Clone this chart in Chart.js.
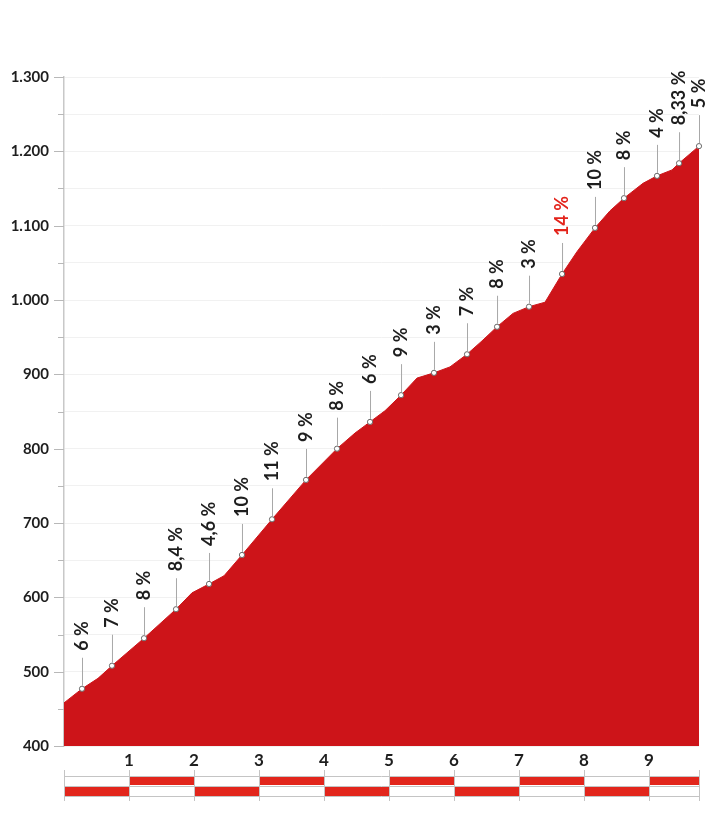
<!DOCTYPE html>
<html>
<head>
<meta charset="utf-8">
<title>Perfil</title>
<script src="https://cdn.jsdelivr.net/npm/chart.js@4/dist/chart.umd.min.js"></script>
<style>
  html, body { margin: 0; padding: 0; background: #fff; }
  #wrap { width: 728px; height: 827px; }
</style>
</head>
<body>
<div id="wrap"><canvas id="chart" width="728" height="827"></canvas></div>
<script>
// profile: distance (km), altitude (m), gradient label at that point
const km = [0, 0.277, 0.523, 0.738, 1.231, 1.723, 1.969, 2.231, 2.462, 2.738, 3.2, 3.723,
  4.2, 4.477, 4.708, 4.938, 5.185, 5.431, 5.692, 5.938, 6.2, 6.431, 6.662, 6.908,
  7.154, 7.4, 7.662, 7.892, 8.169, 8.4, 8.615, 8.908, 9.123, 9.354, 9.462, 9.769];
const altitude = [458, 477, 491, 508, 545, 584, 606, 618, 629, 657, 705, 758,
  800, 821, 836, 851, 872, 895, 902, 910, 927, 945, 964, 982,
  991, 997, 1035, 1065, 1097, 1120, 1137, 1157, 1167, 1175, 1184, 1207];
const gradients = ['', '6 %', '', '7 %', '8 %', '8,4 %', '', '4,6 %', '', '10 %', '11 %', '9 %',
  '8 %', '', '6 %', '', '9 %', '', '3 %', '', '7 %', '', '8 %', '',
  '3 %', '', '14 %', '', '10 %', '', '8 %', '', '4 %', '', '8,33 %', '5 %'];
const kmTicks = [1, 2, 3, 4, 5, 6, 7, 8, 9];
const yMin = 400, yMax = 1300;

const TEXT = '#1e1e1e';
const FONT = 'Lato, "Open Sans", sans-serif';

const fmtAlt = (v) => {
  if (v % 100 !== 0) return '';
  return v >= 1000 ? Math.floor(v / 1000) + '.' + String(v % 1000).padStart(3, '0') : String(v);
};

// gradient labels with leader lines above the marked points
const gradientLabels = {
  id: 'gradientLabels',
  afterDatasetsDraw(chart) {
    const { ctx } = chart;
    const meta = chart.getDatasetMeta(0);
    ctx.save();
    meta.data.forEach((pt, i) => {
      const txt = gradients[i];
      if (!txt) return;
      ctx.strokeStyle = '#a8a8a8';
      ctx.lineWidth = 1;
      ctx.beginPath();
      ctx.moveTo(pt.x + 0.5, pt.y - 3);
      ctx.lineTo(pt.x + 0.5, pt.y - 31);
      ctx.stroke();
      ctx.translate(pt.x, pt.y - 38);
      ctx.rotate(-Math.PI / 2);
      ctx.fillStyle = parseFloat(txt) >= 12 ? '#e3241b' : TEXT;
      ctx.font = 'bold 18px ' + FONT;
      ctx.textAlign = 'left';
      ctx.textBaseline = 'middle';
      ctx.fillText(txt, 0, 0);
      ctx.setTransform(1, 0, 0, 1, 0, 0);
    });
    ctx.restore();
  }
};

// y tick marks (long at hundreds, short at fifties)
const yTickMarks = {
  id: 'yTickMarks',
  afterDraw(chart) {
    const { ctx } = chart;
    const y = chart.scales.y;
    const x0 = chart.chartArea.left;
    ctx.save();
    ctx.strokeStyle = '#b8b8b8';
    ctx.lineWidth = 1;
    y.ticks.forEach((t) => {
      const py = Math.round(y.getPixelForValue(t.value)) + 0.5;
      const len = t.value % 100 === 0 ? 10 : 6;
      ctx.beginPath();
      ctx.moveTo(x0 - len, py);
      ctx.lineTo(x0, py);
      ctx.stroke();
    });
    ctx.restore();
  }
};

// kilometre strip below the axis
const kmStrip = {
  id: 'kmStrip',
  afterDraw(chart) {
    const { ctx } = chart;
    const x = chart.scales.x;
    const end = km[km.length - 1];
    const rowTop = 777, rowMid = 786, rowBot = 795;
    ctx.save();
    for (let k = 0; k < Math.ceil(end); k++) {
      const a = x.getPixelForValue(k);
      const b = x.getPixelForValue(Math.min(k + 1, end));
      ctx.fillStyle = '#e2261c';
      if (k % 2 === 1) ctx.fillRect(a, rowTop, b - a, rowMid - rowTop - 1);
      else ctx.fillRect(a, rowMid + 1, b - a, rowBot - rowMid);
    }
    ctx.strokeStyle = '#c4c4c4';
    ctx.lineWidth = 1;
    const left = x.getPixelForValue(0), right = x.getPixelForValue(end);
    [rowTop - 0.5, rowMid + 0.5, rowBot + 1.5].forEach((py) => {
      ctx.beginPath();
      ctx.moveTo(left, py);
      ctx.lineTo(right, py);
      ctx.stroke();
    });
    [0, ...kmTicks, end].forEach((v) => {
      const px = Math.round(x.getPixelForValue(v)) + 0.5;
      ctx.beginPath();
      ctx.moveTo(px, 770);
      ctx.lineTo(px, 801);
      ctx.stroke();
    });
    ctx.restore();
  }
};

new Chart(document.getElementById('chart'), {
  type: 'line',
  data: {
    datasets: [{
      data: km.map((d, i) => ({ x: d, y: altitude[i] })),
      fill: 'start',
      backgroundColor: '#cd1419',
      borderColor: '#cd1419',
      borderWidth: 1,
      tension: 0,
      clip: false,
      pointRadius: (c) => (gradients[c.dataIndex] ? 2.6 : 0),
      pointBackgroundColor: '#ffffff',
      pointBorderColor: '#6a6a6a',
      pointBorderWidth: 1
    }]
  },
  options: {
    responsive: false,
    animation: false,
    devicePixelRatio: 1,
    layout: { padding: { top: 77, right: 29, left: 0, bottom: 0 } },
    plugins: { legend: { display: false }, tooltip: { enabled: false } },
    scales: {
      x: {
        type: 'linear',
        min: 0,
        max: km[km.length - 1],
        afterBuildTicks: (s) => { s.ticks = kmTicks.map((v) => ({ value: v })); },
        afterFit: (s) => { s.height = 81; },
        grid: { display: false },
        border: { display: false },
        ticks: {
          padding: -4,
          color: TEXT,
          font: { family: FONT, size: 17, weight: 'bold' },
          maxRotation: 0,
          callback: (v) => String(v)
        }
      },
      y: {
        min: yMin,
        max: yMax,
        afterFit: (s) => { s.width = 64; },
        ticks: {
          stepSize: 50,
          padding: 15,
          color: TEXT,
          font: { family: FONT, size: 15, weight: 'bold' },
          callback: (v) => fmtAlt(v)
        },
        grid: { color: '#f1f1f1', drawTicks: false },
        border: { color: '#c8c8c8', width: 1.5 }
      }
    }
  },
  plugins: [gradientLabels, yTickMarks, kmStrip]
});
</script>
</body>
</html>
